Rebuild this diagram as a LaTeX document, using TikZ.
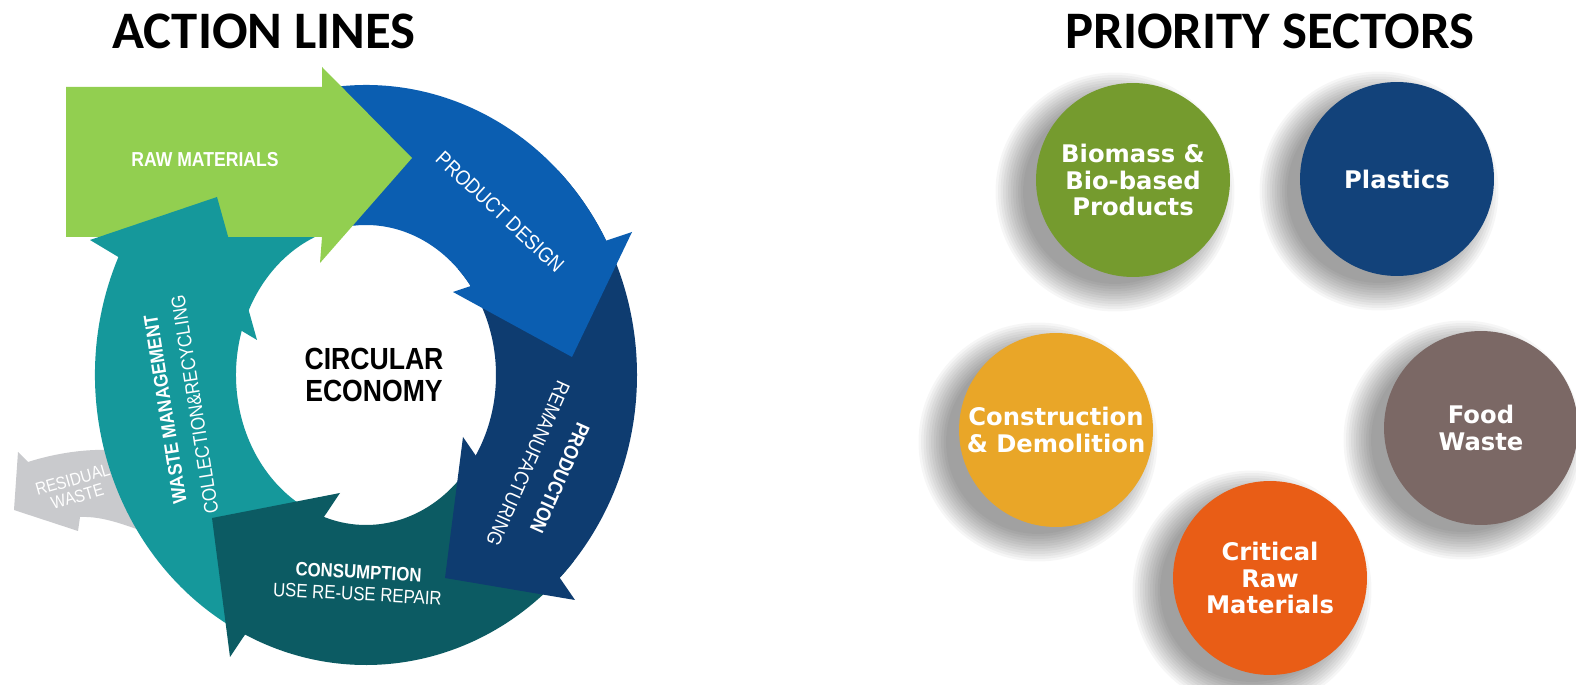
\documentclass[tikz,border=0pt]{standalone}
\usepackage{fontspec}
\setmainfont{Liberation Sans}
\newfontfamily\titlefont{Carlito}
\newfontfamily\ringfont[FakeStretch=0.87]{Liberation Sans}
\newfontfamily\sectorfont{DejaVu Sans}
\usepackage{tikz}
\usetikzlibrary{backgrounds}
\definecolor{rawgreen}{HTML}{92CF50}
\definecolor{designblue}{HTML}{0B5EB1}
\definecolor{prodnavy}{HTML}{0E3C70}
\definecolor{consumteal}{HTML}{0C5B63}
\definecolor{wasteteal}{HTML}{15989B}
\definecolor{residgrey}{HTML}{C9CACD}
\definecolor{biogreen}{HTML}{759B2E}
\definecolor{plastblue}{HTML}{12427A}
\definecolor{constrorange}{HTML}{E9A628}
\definecolor{foodbrown}{HTML}{7B6865}
\definecolor{critorange}{HTML}{E95D16}
\begin{document}
\begin{tikzpicture}[
    x=0.02cm, y=0.02cm,
    title/.style={font=\titlefont\bfseries\fontsize{30}{36}\selectfont, inner sep=0pt},
    ringtext/.style={text=white, align=center, inner sep=0pt},
    sector/.style={circle, fill=#1, minimum size=3.88cm, inner sep=0pt, align=center,
        text=white, font=\sectorfont\bfseries\fontsize{13.8}{15.2}\selectfont},
    outer/.style={x radius=271, y radius=290},
    inner/.style={x radius=130, y radius=150}
]
    \useasboundingbox (0,0) rectangle (1576,-685);

    % Titles
    \node[title] (actl) at (264,-31) {ACTION LINES};
    \node[title] (prio) at (1270,-31) {PRIORITY SECTORS};

    % Circular economy ring
    \begin{scope}[shift={(366,-375)}]
        % residual waste leaves the ring
        \fill[residgrey] (-348,-77) -- (-338,-87) .. controls (-310,-78) and (-280,-74) .. (-256,-75)
            -- (-200,-72) -- (-200,-165) .. controls (-240,-150) and (-262,-141) .. (-286,-142)
            -- (-288,-156) -- (-352,-135) -- cycle;

        % bodies
        \fill[wasteteal] (-118:271 and 290) arc[start angle=-118, end angle=-260, outer]
            -- (100:130 and 150) arc[start angle=100, end angle=248, inner] -- cycle;
        \fill[consumteal] (-40:271 and 290) arc[start angle=-40, end angle=-120, outer]
            -- (-110:130 and 150) arc[start angle=-110, end angle=-40, inner] -- cycle;
        \fill[prodnavy] (45:271 and 290) arc[start angle=45, end angle=-48, outer]
            -- (-36:130 and 150) arc[start angle=-36, end angle=45, inner] -- cycle;
        \fill[designblue] (100:271 and 290) arc[start angle=100, end angle=25, outer]
            -- (32:130 and 150) arc[start angle=32, end angle=100, inner] -- cycle;
        \fill[rawgreen] (-300,288) -- (-44,288) -- (-44,308) -- (46,217) -- (-46,112)
            -- (-44,138) -- (-300,138) -- cycle;

        % heads
        \fill[designblue] (266,143) -- (206,18) -- (87,83) -- cycle;
        \fill[prodnavy] (97,-62) -- (79,-203) -- (209,-225) -- cycle;
        \fill[consumteal] (-26,-118) -- (-154,-143) -- (-136,-282) -- cycle;
        \fill[wasteteal] (-276,135) -- (-149,178) -- (-109,35) -- cycle;

        % labels
        \node[ringtext, font=\ringfont\bfseries\fontsize{11.5}{12}\selectfont] (raw) at (-161,215) {RAW MATERIALS};
        \node[ringtext, rotate=-43, font=\ringfont\fontsize{12}{13}\selectfont] (design) at (134,163) {PRODUCT DESIGN};
        \node[ringtext, rotate=-114, font=\ringfont\fontsize{11.5}{19.8}\selectfont] (prod) at (178,-96)
            {\textbf{PRODUCTION}\\REMANUFACTURING};
        \node[ringtext, rotate=-3, font=\ringfont\fontsize{11}{12.5}\selectfont] (consum) at (-8,-208)
            {\textbf{CONSUMPTION}\\USE RE-USE REPAIR};
        \node[ringtext, rotate=99, font=\ringfont\fontsize{11.2}{17}\selectfont] (waste) at (-186,-32)
            {\textbf{WASTE MANAGEMENT}\\COLLECTION\&RECYCLING};
        \node[ringtext, rotate=16, font=\ringfont\fontsize{10}{10}\selectfont] (resid) at (-291,-113)
            {RESIDUAL\\WASTE};
        \node[align=center, inner sep=0pt, font=\ringfont\bfseries\fontsize{17.4}{18.7}\selectfont] (circ) at (8,0)
            {CIRCULAR\\ECONOMY};
    \end{scope}

    % Priority sectors
    \node[sector=biogreen] (bio) at (1133,-180) {Biomass \&\\Bio-based\\Products};
    \node[sector=plastblue] (plast) at (1397,-179) {Plastics};
    \node[sector=constrorange] (constr) at (1056,-430) {Construction\\\& Demolition};
    \node[sector=foodbrown] (food) at (1481,-428) {Food\\Waste};
    \node[sector=critorange] (crit) at (1270,-578) {Critical\\Raw\\Materials};

    % soft shadows
    \begin{scope}[on background layer]
        \fill[white] (0,0) rectangle (1576,-685);
        \foreach \n in {bio,plast,constr,food,crit}
            \foreach \k in {0,...,11}
                \fill[black, opacity=0.035] ([shift={(-18,-12)}]\n.center) circle[radius=1.84cm+\k*0.05cm];
    \end{scope}
\end{tikzpicture}
\end{document}
